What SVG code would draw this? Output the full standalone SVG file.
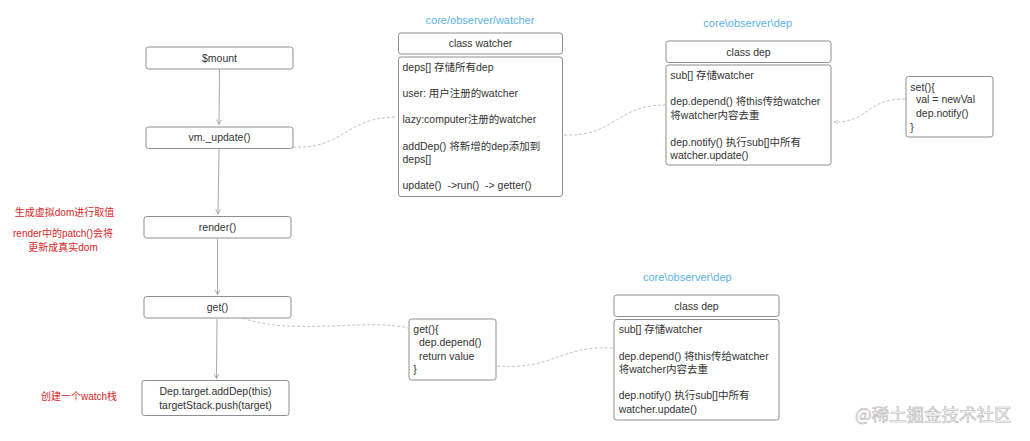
<svg xmlns="http://www.w3.org/2000/svg" width="1030" height="441" viewBox="0 0 1030 441">
<defs>
<style>
.box{fill:#fff;stroke:#8f8f8f;stroke-width:1}
.t{font-family:"Liberation Sans","Noto Sans CJK SC",sans-serif;font-size:10.5px;fill:#333}
.c{text-anchor:middle}
.blue{font-family:"Liberation Sans","Noto Sans CJK SC",sans-serif;font-size:11px;fill:#5ab2e6;text-anchor:middle}
.red{font-family:"Liberation Sans","Noto Sans CJK SC",sans-serif;font-size:10px;fill:#d8261f;text-anchor:middle}
.flow{fill:none;stroke:#a8a8a8;stroke-width:1}
.dash{fill:none;stroke:#c4c4c4;stroke-width:1;stroke-dasharray:3 2}
.wm{font-family:"Noto Sans CJK SC","Liberation Sans",sans-serif;font-size:17.5px;fill:#fff;stroke:#b5b5b5;stroke-width:0.6}
</style>
<marker id="ah" viewBox="0 0 6 6" refX="5" refY="3" markerWidth="6" markerHeight="6" orient="auto">
<path d="M0,0.5 L5,3 L0,5.5" fill="none" stroke="#a8a8a8" stroke-width="0.9"/>
</marker>
<marker id="ahd" viewBox="0 0 6 6" refX="5" refY="3" markerWidth="5" markerHeight="5" orient="auto">
<path d="M0,0.5 L5,3 L0,5.5" fill="none" stroke="#bdbdbd" stroke-width="0.9"/>
</marker>
</defs>
<rect width="1030" height="441" fill="#fff"/>

<g id="connectors">
<path class="flow" d="M219.5,69 L219,124.5" marker-end="url(#ah)"/>
<path class="flow" d="M219,149 L218,214" marker-end="url(#ah)"/>
<path class="flow" d="M217.5,239 L217.5,294.5" marker-end="url(#ah)"/>
<path class="flow" d="M217,319 L216.5,378.5" marker-end="url(#ah)"/>
<path class="dash" d="M293,147 C345,149 345,117 397,117"/>
<path class="dash" d="M564,135 C615,137 615,105 666,105"/>
<path class="dash" d="M905,99 C865,99 870,122 834,122" marker-end="url(#ahd)"/>
<path class="dash" d="M243,318 C290,336 370,318 408,328"/>
<path class="dash" d="M497,366 C555,370 560,345 613,348"/>
</g>

<g id="mount"><rect class="box" x="146" y="47" width="147" height="22" rx="2.5"/><text class="t c" x="219.5" y="61.5">$mount</text></g>
<g id="vm-update"><rect class="box" x="146" y="127" width="147" height="21.5" rx="2.5"/><text class="t c" x="219.5" y="141">vm._update()</text></g>
<g id="render"><rect class="box" x="144" y="216.5" width="147" height="21.5" rx="2.5"/><text class="t c" x="217.5" y="231">render()</text></g>
<g id="get"><rect class="box" x="144" y="296.5" width="147" height="21.5" rx="2.5"/><text class="t c" x="217.5" y="311">get()</text></g>
<g id="dep-target"><rect class="box" x="142" y="380.5" width="147" height="35" rx="2.5"/><text class="t c" x="215.5" y="395">Dep.target.addDep(this)</text><text class="t c" x="215.5" y="408.5">targetStack.push(target)</text></g>

<g id="notes">
<text class="red" x="64.5" y="215.5">生成虚拟dom进行取值</text>
<text class="red" x="63" y="237">render中的patch()会将</text>
<text class="red" x="63" y="250.5">更新成真实dom</text>
<text class="red" x="79" y="399.5">创建一个watch栈</text>
</g>

<g id="watcher">
<text class="blue" x="480" y="24">core/observer/watcher</text>
<rect class="box" x="398.5" y="33" width="164" height="21" rx="2.5"/>
<text class="t c" x="480.5" y="47.3">class watcher</text>
<rect class="box" x="398.5" y="57" width="164" height="139.5" rx="2.5"/>
<text class="t" x="402.5" y="70.7">deps[] 存储所有dep</text>
<text class="t" x="402.5" y="97.3">user: 用户注册的watcher</text>
<text class="t" x="402.5" y="123">lazy:computer注册的watcher</text>
<text class="t" x="402.5" y="149.7">addDep() 将新增的dep添加到</text>
<text class="t" x="402.5" y="163.3">deps[]</text>
<text class="t" x="402.5" y="189" xml:space="preserve">update()  -&gt;run()  -&gt; getter()</text>
</g>

<g id="dep-top">
<text class="blue" x="747.7" y="27.3">core\observer\dep</text>
<rect class="box" x="666" y="41" width="165" height="21.5" rx="2.5"/>
<text class="t c" x="748.5" y="55.7">class dep</text>
<rect class="box" x="666" y="65" width="165" height="100" rx="2.5"/>
<text class="t" x="670.3" y="79.3">sub[] 存储watcher</text>
<text class="t" x="670.3" y="104.7">dep.depend() 将this传给watcher</text>
<text class="t" x="670.3" y="119">将watcher内容去重</text>
<text class="t" x="670.3" y="145.7">dep.notify() 执行sub[]中所有</text>
<text class="t" x="670.3" y="159">watcher.update()</text>
</g>

<g id="set">
<rect class="box" x="906" y="76.5" width="87" height="60.5" rx="2.5"/>
<text class="t" x="910.3" y="90.7">set(){</text>
<text class="t" x="916" y="103.3">val = newVal</text>
<text class="t" x="916" y="117.3">dep.notify()</text>
<text class="t" x="910.3" y="130.7">}</text>
</g>

<g id="getter">
<rect class="box" x="409" y="319" width="87" height="61" rx="2.5"/>
<text class="t" x="413.3" y="333.3">get(){</text>
<text class="t" x="419" y="346">dep.depend()</text>
<text class="t" x="419" y="360">return value</text>
<text class="t" x="413.3" y="373.3">}</text>
</g>

<g id="dep-bottom">
<text class="blue" x="687.3" y="280.7">core\observer\dep</text>
<rect class="box" x="614" y="295" width="165" height="21.5" rx="2.5"/>
<text class="t c" x="696.5" y="309.5">class dep</text>
<rect class="box" x="614" y="319.5" width="165" height="100.5" rx="2.5"/>
<text class="t" x="618.7" y="333.3">sub[] 存储watcher</text>
<text class="t" x="618.7" y="360">dep.depend() 将this传给watcher</text>
<text class="t" x="618.7" y="373.3">将watcher内容去重</text>
<text class="t" x="618.7" y="399.3">dep.notify() 执行sub[]中所有</text>
<text class="t" x="618.7" y="412.7">watcher.update()</text>
</g>

<text class="wm" x="855" y="421">@稀土掘金技术社区</text>
</svg>
